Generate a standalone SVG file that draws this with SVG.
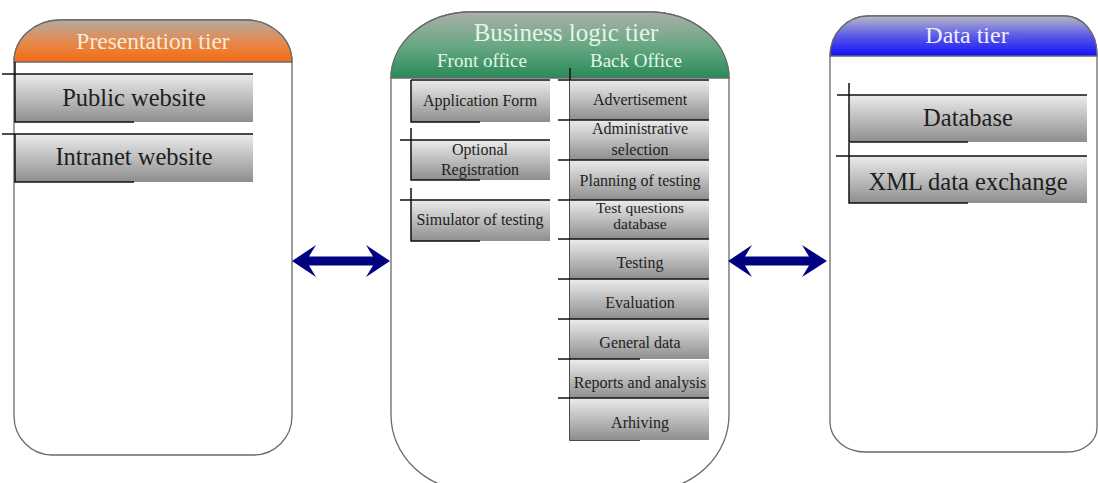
<svg xmlns="http://www.w3.org/2000/svg" width="1098" height="483" viewBox="0 0 1098 483">
<defs>
<linearGradient id="gOr" x1="0" y1="0" x2="0" y2="1"><stop offset="0" stop-color="#b4aaa0"/><stop offset="0.55" stop-color="#e8884a"/><stop offset="1" stop-color="#f26a10"/></linearGradient>
<linearGradient id="gGr" x1="0" y1="0" x2="0" y2="1"><stop offset="0" stop-color="#aab0aa"/><stop offset="0.5" stop-color="#6aa884"/><stop offset="1" stop-color="#2a8a58"/></linearGradient>
<linearGradient id="gBl" x1="0" y1="0" x2="0" y2="1"><stop offset="0" stop-color="#b8b8c8"/><stop offset="0.5" stop-color="#5a5ae8"/><stop offset="1" stop-color="#1010f8"/></linearGradient>
<linearGradient id="gBox" x1="0" y1="0" x2="0" y2="1"><stop offset="0" stop-color="#ececec"/><stop offset="1" stop-color="#8e8e8e"/></linearGradient>
</defs>
<style>
.panel{fill:#fff;stroke:#6a6a6a;stroke-width:1.3}
.box{fill:url(#gBox)}
.ln{stroke:#111;stroke-width:1.5;fill:none}
.hd{font-family:"Liberation Serif","Times New Roman",serif;text-anchor:middle}
.t{font-family:"Liberation Serif","Times New Roman",serif;fill:#1e1e1e;text-anchor:middle}
.big{font-size:24.5px}
.sm{font-size:16px}
.arrow{fill:#000080}
</style>

<g id="presentation-tier">
<path class="panel" d="M14,62 A46,42 0 0 1 60,20 L246,20 A46,42 0 0 1 292,62 L292,416 A38,39 0 0 1 254,455 L52,455 A38,39 0 0 1 14,416 Z"/>
<path d="M14,62 A46,42 0 0 1 60,20 L246,20 A46,42 0 0 1 292,62 Z" fill="url(#gOr)" stroke="#6a6a6a" stroke-width="1.3"/>
<text class="hd" x="153" y="49" font-size="23.5" fill="#f8ecdc">Presentation tier</text>
</g>
<g id="public-website">
<rect class="box" x="15" y="74" width="238" height="48"/>
<path class="ln" d="M2,74 H253 M15,62 V122 H134"/>
<text class="t big" x="134" y="106">Public website</text>
</g>
<g id="intranet-website">
<rect class="box" x="15" y="134" width="238" height="48"/>
<path class="ln" d="M2,134 H253 M15,134 V182 H134"/>
<text class="t big" x="134" y="165">Intranet website</text>
</g>

<g id="business-logic-tier">
<path class="panel" d="M391,78 A80,66 0 0 1 471,12 L649,12 A80,66 0 0 1 729,78 L729,415 A80,75 0 0 1 649,490 L471,490 A80,75 0 0 1 391,415 Z"/>
<path d="M391,78 A80,66 0 0 1 471,12 L649,12 A80,66 0 0 1 729,78 Z" fill="url(#gGr)" stroke="#6a6a6a" stroke-width="1.3"/>
<text class="hd" x="566" y="41" font-size="25" fill="#e4f6e8">Business logic tier</text>
<text class="hd" x="482" y="67" font-size="19" fill="#e4f6e8">Front office</text>
<text class="hd" x="636" y="67" font-size="19" fill="#e4f6e8">Back Office</text>
</g>

<g id="application-form">
<rect class="box" x="411" y="80" width="139" height="42"/>
<path class="ln" d="M411,80 H550 M411,80 V122 H480"/>
<text class="t sm" x="480" y="106">Application Form</text>
</g>
<g id="optional-registration">
<rect class="box" x="411" y="140" width="139" height="40"/>
<path class="ln" d="M400,140 H550 M411,128 V180 H480"/>
<text class="t sm" x="480" y="155">Optional</text>
<text class="t sm" x="480" y="175">Registration</text>
</g>
<g id="simulator-of-testing">
<rect class="box" x="411" y="200" width="139" height="41"/>
<path class="ln" d="M400,200 H550 M411,188 V241 H480"/>
<text class="t sm" x="480" y="225">Simulator of testing</text>
</g>

<g id="back-office-column">
<path class="ln" d="M570,68 V440 H640"/>
</g>
<g id="advertisement">
<rect class="box" x="570" y="80" width="139" height="40"/>
<path class="ln" d="M558,80 H709"/>
<text class="t sm" x="640" y="105">Advertisement</text>
</g>
<g id="administrative-selection">
<rect class="box" x="570" y="120" width="139" height="40"/>
<path class="ln" d="M558,120 H709"/>
<text class="t sm" x="640" y="134">Administrative</text>
<text class="t sm" x="640" y="155">selection</text>
</g>
<g id="planning-of-testing">
<rect class="box" x="570" y="160" width="139" height="40"/>
<path class="ln" d="M558,160 H709"/>
<text class="t sm" x="640" y="186">Planning of testing</text>
</g>
<g id="test-questions-database">
<rect class="box" x="570" y="200" width="139" height="39"/>
<path class="ln" d="M558,200 H709"/>
<text class="t" x="640" y="213" font-size="15.5">Test questions</text>
<text class="t" x="640" y="229" font-size="15.5">database</text>
</g>
<g id="testing">
<rect class="box" x="570" y="239" width="139" height="40"/>
<path class="ln" d="M558,239 H709"/>
<text class="t sm" x="640" y="268">Testing</text>
</g>
<g id="evaluation">
<rect class="box" x="570" y="279" width="139" height="40"/>
<path class="ln" d="M558,279 H709"/>
<text class="t sm" x="640" y="308">Evaluation</text>
</g>
<g id="general-data">
<rect class="box" x="570" y="319" width="139" height="40"/>
<path class="ln" d="M558,319 H709"/>
<text class="t sm" x="640" y="348">General data</text>
</g>
<g id="reports-and-analysis">
<rect class="box" x="570" y="360" width="139" height="38"/>
<path class="ln" d="M558,359 H640"/>
<text class="t sm" x="640" y="388">Reports and analysis</text>
</g>
<g id="arhiving">
<rect class="box" x="570" y="398" width="139" height="42"/>
<path class="ln" d="M558,398 H709"/>
<text class="t sm" x="640" y="428">Arhiving</text>
</g>

<g id="data-tier">
<path class="panel" d="M830,56 A38,40 0 0 1 868,16 L1065,16 A32,38 0 0 1 1097,54 L1097,428 A30,24 0 0 1 1067,452 L865,452 A35,30 0 0 1 830,422 Z"/>
<path d="M830,56 A38,40 0 0 1 868,16 L1065,16 A32,38 0 0 1 1097,54 L1097,56 Z" fill="url(#gBl)" stroke="#6a6a6a" stroke-width="1.3"/>
<text class="hd" x="967" y="43" font-size="24" fill="#f0f0ff">Data tier</text>
</g>
<g id="database">
<rect class="box" x="849" y="95" width="238" height="47"/>
<path class="ln" d="M837,95 H1087 M849,83 V142 H968"/>
<text class="t big" x="968" y="126">Database</text>
</g>
<g id="xml-data-exchange">
<rect class="box" x="849" y="156" width="238" height="47"/>
<path class="ln" d="M836,156 H1087 M849,143 V203 H968"/>
<text class="t big" x="968" y="190">XML data exchange</text>
</g>

<g id="connectors">
<path class="arrow" d="M292,261 L316,245 L309,256.5 L373,256.5 L366,245 L390,261 L366,277 L373,265.5 L309,265.5 L316,277 Z"/>
<path class="arrow" d="M728,261 L752,245 L745,256.5 L809,256.5 L802,245 L827,261 L802,277 L809,265.5 L745,265.5 L752,277 Z"/>
</g>
</svg>
